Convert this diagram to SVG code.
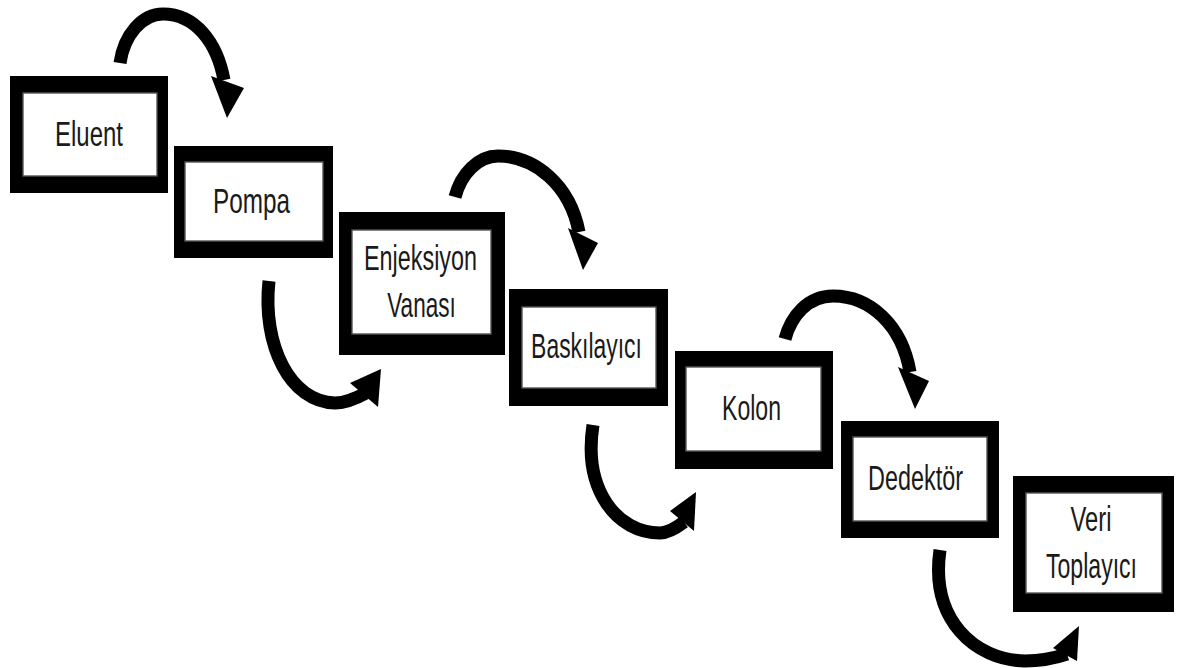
<svg xmlns="http://www.w3.org/2000/svg" width="1183" height="668" viewBox="0 0 1183 668">
<style>
.frame{fill:#000}
.inner{fill:#fff;stroke:#555;stroke-width:1.4}
.lbl{font-family:"Liberation Sans",Arial,sans-serif;font-size:35px;fill:#1a1a1a;text-anchor:middle}
.arc{fill:none;stroke:#000;stroke-width:13;stroke-linecap:butt}
.head{fill:#000}
</style>
<rect width="1183" height="668" fill="#fff"/>
<g id="connectors">
<path class="arc" d="M120,63 C124,35 142,14 163,14 C195,14 217,42 224,80"/>
<polygon class="head" points="211,76 244,88 227,118"/>
<path class="arc" d="M455,197 C461,174 478,156 498,156 C535,156 570,185 579,232"/>
<polygon class="head" points="568,228 598,243 583,270"/>
<path class="arc" d="M785,339 C791,316 808,296 833,296 C870,296 902,325 910,372"/>
<polygon class="head" points="898,367 929,381 915,409"/>
<path class="arc" d="M269,281 C262,345 290,402 335,403 C345,403 355,399 366,393"/>
<polygon class="head" points="350,383 381,369 378,407"/>
<path class="arc" d="M593,425 C583,490 617,533 660,533 C668,533 676,528 684,522"/>
<polygon class="head" points="670,511 696,492 694,531"/>
<path class="arc" d="M940,550 C930,620 975,660 1025,661 C1040,661 1055,658 1067,654"/>
<polygon class="head" points="1053,648 1079,626 1077,661"/>
</g>
<g id="eluent">
<rect class="frame" x="10" y="76" width="158" height="117"/>
<rect class="inner" x="23" y="93" width="134" height="83"/>
<text class="lbl" transform="translate(89,146) scale(0.685,1)">Eluent</text>
</g>
<g id="pompa">
<rect class="frame" x="174" y="146" width="159" height="112"/>
<rect class="inner" x="185" y="162" width="138" height="79"/>
<text class="lbl" transform="translate(251.5,213) scale(0.694,1)">Pompa</text>
</g>
<g id="enjeksiyon">
<rect class="frame" x="339" y="212" width="166" height="143"/>
<rect class="inner" x="352" y="230" width="139" height="104"/>
<text class="lbl" transform="translate(420.5,270) scale(0.668,1)">Enjeksiyon</text>
<text class="lbl" transform="translate(421.5,317) scale(0.645,1)">Vanası</text>
</g>
<g id="baskilayici">
<rect class="frame" x="509" y="289" width="159" height="117"/>
<rect class="inner" x="522" y="307" width="134" height="81"/>
<text class="lbl" transform="translate(586.5,358) scale(0.655,1)">Baskılayıcı</text>
</g>
<g id="kolon">
<rect class="frame" x="675" y="351" width="158" height="118"/>
<rect class="inner" x="686" y="367" width="135" height="84"/>
<text class="lbl" transform="translate(751.5,420) scale(0.659,1)">Kolon</text>
</g>
<g id="dedektor">
<rect class="frame" x="841" y="421" width="158" height="117"/>
<rect class="inner" x="853" y="437" width="134" height="84"/>
<text class="lbl" transform="translate(915.5,490) scale(0.669,1)">Dedektör</text>
</g>
<g id="veri-toplayici">
<rect class="frame" x="1013" y="476" width="161" height="136"/>
<rect class="inner" x="1026" y="493" width="136" height="100"/>
<text class="lbl" transform="translate(1091,531) scale(0.68,1)">Veri</text>
<text class="lbl" transform="translate(1091.5,578) scale(0.659,1)">Toplayıcı</text>
</g>
</svg>
